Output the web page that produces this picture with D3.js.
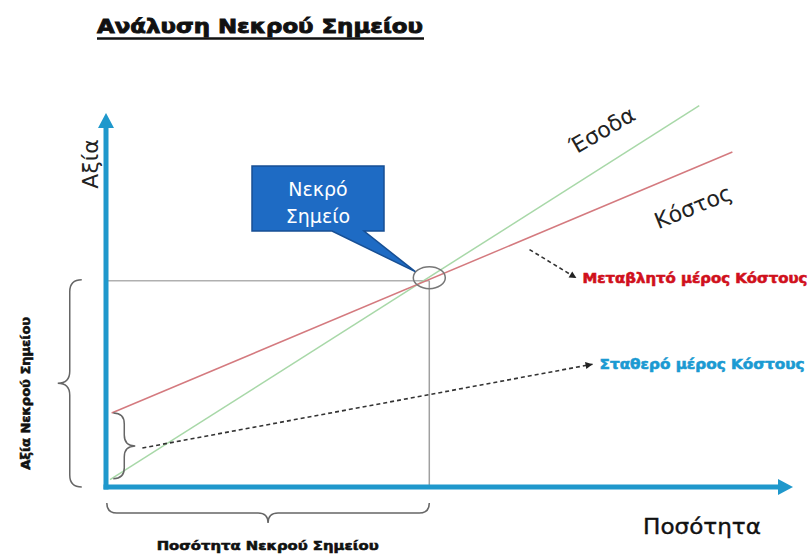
<!DOCTYPE html>
<html>
<head>
<meta charset="utf-8">
<script src="https://cdn.jsdelivr.net/npm/d3@7"></script>
<style>
  body { margin: 0; background: #fff; }
  svg { display: block; }
</style>
</head>
<body>
<div id="chart"></div>
<script>
// break-even chart data (quantity / value units)
const axisMax = { q: 85, v: 46 };
const revenuePoints = [{ q: 0.5, v: 0.9 }, { q: 73.4, v: 46.9 }];
const costPoints = [{ q: 0.7, v: 9.1 }, { q: 77.5, v: 41.2 }];
const breakEven = { q: 40, v: 25.5 };
const fixedArrow = [{ q: 4.5, v: 4.8 }, { q: 60.2, v: 15.1 }];
const variableArrow = [{ q: 52.4, v: 29.2 }, { q: 58.2, v: 25.7 }];
const labels = {
  title: 'Ανάλυση Νεκρού Σημείου',
  yAxis: 'Αξία',
  xAxis: 'Ποσότητα',
  revenue: 'Έσοδα',
  cost: 'Κόστος',
  callout: ['Νεκρό', 'Σημείο'],
  variable: 'Μεταβλητό μέρος Κόστους',
  fixed: 'Σταθερό μέρος Κόστους',
  beQty: 'Ποσότητα Νεκρού Σημείου',
  beValue: 'Αξία Νεκρού Σημείου'
};

const W = 812, H = 554;
const axisBlue = '#1f98cc';

const svg = d3.select('#chart').append('svg')
  .attr('width', W)
  .attr('height', H)
  .style('font-family', 'DejaVu Sans, sans-serif');

const x = d3.scaleLinear().domain([0, axisMax.q]).range([106, 793]);
const y = d3.scaleLinear().domain([0, axisMax.v]).range([487, 113]);

const line = d3.line().x(d => x(d.q)).y(d => y(d.v));

// heavy text helper: bold + thin outline in the same colour
const heavy = (sel, color, w) => sel.attr('font-weight', 'bold').attr('fill', color)
  .attr('stroke', color).attr('stroke-width', w).attr('paint-order', 'stroke');

// title
svg.append('text')
  .attr('x', 97).attr('y', 33)
  .attr('font-size', 20)
  .attr('textLength', 326).attr('lengthAdjust', 'spacingAndGlyphs')
  .call(heavy, '#111', 0.9)
  .text(labels.title);
svg.append('line')
  .attr('x1', 97).attr('x2', 424).attr('y1', 38.5).attr('y2', 38.5)
  .attr('stroke', '#111').attr('stroke-width', 2.5);

// guide lines to break-even point
const bx = x(breakEven.q), by = y(breakEven.v);
svg.append('line')
  .attr('x1', x(0)).attr('x2', bx).attr('y1', by + 1).attr('y2', by + 1)
  .attr('stroke', '#b0b0b0').attr('stroke-width', 1.5);
svg.append('line')
  .attr('x1', bx).attr('x2', bx).attr('y1', by + 1).attr('y2', y(0))
  .attr('stroke', '#a0a0a0').attr('stroke-width', 1.5);

// revenue and cost lines
svg.append('path').attr('d', line(revenuePoints))
  .attr('fill', 'none').attr('stroke', '#a8d8a8').attr('stroke-width', 1.5);
svg.append('path').attr('d', line(costPoints))
  .attr('fill', 'none').attr('stroke', '#d47a7f').attr('stroke-width', 1.5);

// break-even ellipse
svg.append('ellipse')
  .attr('cx', bx).attr('cy', by - 2).attr('rx', 16).attr('ry', 11)
  .attr('fill', 'none').attr('stroke', '#777').attr('stroke-width', 1.5);

// dashed arrows
const arrowHead = (pts) => {
  const p0 = [x(pts[0].q), y(pts[0].v)], p1 = [x(pts[1].q), y(pts[1].v)];
  const a = Math.atan2(p1[1] - p0[1], p1[0] - p0[0]);
  const L = 7, Wd = 3.5;
  const bxh = p1[0] - L * Math.cos(a), byh = p1[1] - L * Math.sin(a);
  return [p1,
    [bxh + Wd * Math.sin(a), byh - Wd * Math.cos(a)],
    [bxh - Wd * Math.sin(a), byh + Wd * Math.cos(a)]];
};
[fixedArrow, variableArrow].forEach(pts => {
  svg.append('path').attr('d', line(pts))
    .attr('fill', 'none').attr('stroke', '#333')
    .attr('stroke-width', 1.6).attr('stroke-dasharray', '4,3');
  svg.append('polygon')
    .attr('points', arrowHead(pts).map(p => p.join(',')).join(' '))
    .attr('fill', '#222');
});

// brackets
const brace = (x0, y0, x1, y1, depth) => {
  // curly brace from (x0,y0) to (x1,y1), bulging along the normal by depth
  const dx = x1 - x0, dy = y1 - y0;
  const len = Math.hypot(dx, dy);
  const ux = dx / len, uy = dy / len;
  const nx = -uy * depth, ny = ux * depth;
  const mx = x0 + dx / 2, my = y0 + dy / 2;
  const q = 0.5 * depth;
  return `M${x0},${y0}` +
    ` Q${x0 + nx * 0.5},${y0 + ny * 0.5} ${x0 + nx * 0.5 + ux * q},${y0 + ny * 0.5 + uy * q}` +
    ` L${mx + nx * 0.5 - ux * q},${my + ny * 0.5 - uy * q}` +
    ` Q${mx + nx * 0.5},${my + ny * 0.5} ${mx + nx},${my + ny}` +
    ` Q${mx + nx * 0.5},${my + ny * 0.5} ${mx + nx * 0.5 + ux * q},${my + ny * 0.5 + uy * q}` +
    ` L${x1 + nx * 0.5 - ux * q},${y1 + ny * 0.5 - uy * q}` +
    ` Q${x1 + nx * 0.5},${y1 + ny * 0.5} ${x1},${y1}`;
};
const braceStyle = sel => sel.attr('fill', 'none').attr('stroke', '#666').attr('stroke-width', 1.5);

// fixed cost brace (right of y-axis, pointing right)
svg.append('path')
  .attr('d', brace(x(0.9), y(1), x(0.9), y(costPoints[0].v), 22))
  .call(braceStyle);
// break-even value brace (left of y-axis, pointing left)
svg.append('path')
  .attr('d', brace(x(-3.0), y(breakEven.v), x(-3.0), y(0), 24))
  .call(braceStyle);
// break-even quantity brace (below x-axis, pointing down)
svg.append('path')
  .attr('d', brace(x(0.1), y(0) + 16, bx, y(0) + 16, 20))
  .call(braceStyle);

// axes with arrowheads
svg.append('line')
  .attr('x1', x(0)).attr('x2', x(0)).attr('y1', y(0) + 2.5).attr('y2', y(axisMax.v) + 10)
  .attr('stroke', axisBlue).attr('stroke-width', 5);
svg.append('line')
  .attr('x1', x(0) - 2.5).attr('x2', x(axisMax.q) - 10).attr('y1', y(0)).attr('y2', y(0))
  .attr('stroke', axisBlue).attr('stroke-width', 5);
svg.append('polygon')
  .attr('points', [[x(0), y(axisMax.v)], [x(0) - 8, y(axisMax.v) + 15], [x(0) + 8, y(axisMax.v) + 15]].join(' '))
  .attr('fill', axisBlue);
svg.append('polygon')
  .attr('points', [[x(axisMax.q), y(0)], [x(axisMax.q) - 15, y(0) - 8], [x(axisMax.q) - 15, y(0) + 8]].join(' '))
  .attr('fill', axisBlue);

// axis labels
svg.append('text')
  .attr('transform', 'translate(98,164) rotate(-90)')
  .attr('text-anchor', 'middle').attr('font-size', 22).attr('fill', '#222')
  .text(labels.yAxis);
svg.append('text')
  .attr('x', 702).attr('y', 534)
  .attr('text-anchor', 'middle').attr('font-size', 22).attr('fill', '#111')
  .attr('stroke', '#111').attr('stroke-width', 0.4)
  .attr('textLength', 118).attr('lengthAdjust', 'spacingAndGlyphs')
  .text(labels.xAxis);

// line labels
svg.append('text')
  .attr('transform', 'translate(606,137) rotate(-30)')
  .attr('text-anchor', 'middle').attr('font-size', 22).attr('fill', '#222')
  .text(labels.revenue);
svg.append('text')
  .attr('transform', 'translate(696,214) rotate(-22)')
  .attr('text-anchor', 'middle').attr('font-size', 22).attr('fill', '#222')
  .text(labels.cost);

// callout
const callout = svg.append('g');
callout.append('path')
  .attr('d', `M252,166 H384 V231 H364 L${bx - 14},${by - 8} L332,231 H252 Z`)
  .attr('fill', '#1e6bc4').attr('stroke', '#174f94').attr('stroke-width', 1.5);
callout.selectAll('text').data(labels.callout).join('text')
  .attr('x', 318).attr('y', (d, i) => 196 + i * 27)
  .attr('text-anchor', 'middle').attr('font-size', 19).attr('fill', '#fff')
  .text(d => d);

// component labels
svg.append('text')
  .attr('x', x(variableArrow[1].q) + 6).attr('y', y(variableArrow[1].v) + 5)
  .attr('font-size', 14)
  .attr('textLength', 225).attr('lengthAdjust', 'spacingAndGlyphs')
  .call(heavy, '#d0101c', 0.6)
  .text(labels.variable);
svg.append('text')
  .attr('x', x(fixedArrow[1].q) + 7).attr('y', y(fixedArrow[1].v) + 5)
  .attr('font-size', 14)
  .attr('textLength', 205).attr('lengthAdjust', 'spacingAndGlyphs')
  .call(heavy, '#1b9ad2', 0.6)
  .text(labels.fixed);
svg.append('text')
  .attr('x', (x(0) + bx) / 2).attr('y', 550)
  .attr('text-anchor', 'middle').attr('font-size', 13)
  .attr('textLength', 222).attr('lengthAdjust', 'spacingAndGlyphs')
  .call(heavy, '#111', 0.6)
  .text(labels.beQty);
svg.append('text')
  .attr('transform', `translate(30,${(y(0) + by) / 2 + 10}) rotate(-90)`)
  .attr('text-anchor', 'middle').attr('font-size', 13)
  .attr('textLength', 153).attr('lengthAdjust', 'spacingAndGlyphs')
  .call(heavy, '#111', 0.6)
  .text(labels.beValue);
</script>
</body>
</html>
